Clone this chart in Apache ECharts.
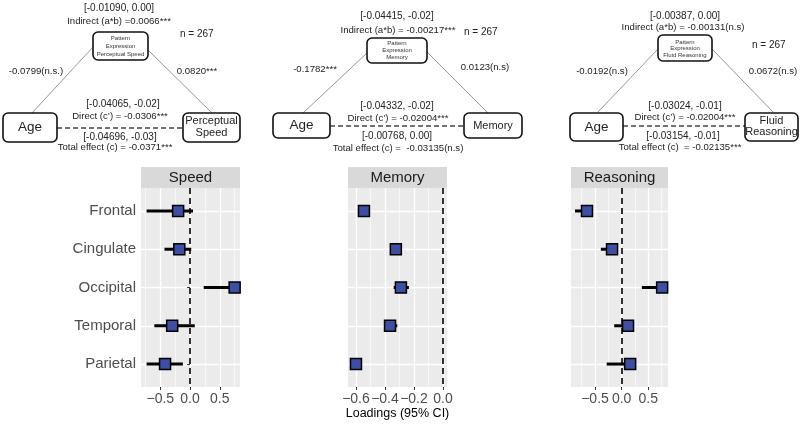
<!DOCTYPE html>
<html>
<head>
<meta charset="utf-8">
<script src="https://cdn.jsdelivr.net/npm/echarts@6/dist/echarts.min.js"></script>
<style>
  html, body { margin: 0; padding: 0; background: #fff; }
  #main { width: 800px; height: 430px; }
</style>
</head>
<body>
<div id="main"></div>
<script>
// forest plot data (loadings with 95% CI)
const regions = ['Frontal', 'Cingulate', 'Occipital', 'Temporal', 'Parietal'];
const panelTitles = ['Speed', 'Memory', 'Reasoning'];

const speedEst = [-0.20, -0.18, 0.75, -0.30, -0.42];
const speedLo = [-0.73, -0.43, 0.23, -0.60, -0.73];
const speedHi = [0.05, 0.02, 0.80, 0.08, -0.12];

const memoryEst = [-0.545, -0.325, -0.29, -0.365, -0.60];
const memoryLo = [-0.56, -0.335, -0.34, -0.38, -0.61];
const memoryHi = [-0.53, -0.285, -0.235, -0.315, -0.59];

const reasonEst = [-0.65, -0.18, 0.76, 0.12, 0.16];
const reasonLo = [-0.875, -0.39, 0.38, -0.14, -0.28];
const reasonHi = [-0.60, -0.13, 0.80, 0.16, 0.20];

const speedTicks = [-0.5, 0, 0.5];
const speedMinor = [-0.75, -0.25, 0.25, 0.75];
const memoryTicks = [-0.6, -0.4, -0.2, 0];
const memoryMinor = [-0.5, -0.3, -0.1];
const reasonTicks = [-0.5, 0, 0.5];
const reasonMinor = [-0.75, -0.25, 0.25, 0.75];

// mediation diagram texts
const mediatorLines = [
  ['Pattern', 'Expression', 'Perceptual Speed'],
  ['Pattern', 'Expression', 'Memory'],
  ['Pattern', 'Expression', 'Fluid Reasoning']
];
const outcomeLines = [['Perceptual', 'Speed'], ['Memory'], ['Fluid', 'Reasoning']];
const indirectCI = ['[-0.01090, 0.00]', '[-0.04415, -0.02]', '[-0.00387, 0.00]'];
const indirectTxt = ['Indirect (a*b) =0.0066***', 'Indirect (a*b) = -0.00217***', 'Indirect (a*b) = -0.00131(n.s)'];
const pathA = ['-0.0799(n.s.)', '-0.1782***', '-0.0192(n.s)'];
const pathB = ['0.0820***', '0.0123(n.s)', '0.0672(n.s)'];
const directCI = ['[-0.04065, -0.02]', '[-0.04332, -0.02]', '[-0.03024, -0.01]'];
const directTxt = ['Direct (c\u2019) = -0.0306***', 'Direct (c\u2019) = -0.02004***', 'Direct (c\u2019) = -0.02004***'];
const totalCI = ['[-0.04696, -0.03]', '[-0.00768, 0.00]', '[-0.03154, -0.01]'];
const totalTxt = ['Total effect (c) = -0.0371***', 'Total effect (c) =  -0.03135(n.s)', 'Total effect (c)  = -0.02135***'];
const sampleN = 'n = 267';

const FONT = '"Liberation Sans", Arial, sans-serif';

// where each diagram sits on the page
const diagrams = [
  {ci: [119, 8], ind: [119, 21], top: [93, 32, 55, 28], topY: [38, 46, 54], n: [180, 34],
   a: [36, 71], b: [197, 71], lineL: [93, 47, 32, 113], lineR: [148, 50, 212, 113],
   dci: [123, 104], dir: [120, 116], age: [3, 113, 54, 29], dash: [57, 183, 128],
   out: [183, 113, 57, 29], outY: [121, 133], tci: [120, 137], tot: [115, 147]},
  {ci: [397, 16], ind: [398, 30], top: [367, 38, 60, 25], topY: [43, 50, 57], n: [464, 32],
   a: [315, 69], b: [485, 67], lineL: [367, 53, 303, 113], lineR: [427, 52, 488, 113],
   dci: [397, 106], dir: [398, 118], age: [273, 113, 57, 25], dash: [330, 464, 126],
   out: [464, 113, 58, 25], outY: [126], tci: [397, 136], tot: [398, 148]},
  {ci: [685, 16], ind: [683, 27], top: [658, 35, 54, 26], topY: [42, 48, 55], n: [752, 45],
   a: [602, 71], b: [773, 71], lineL: [658, 49, 598, 112], lineR: [712, 49, 773, 112],
   dci: [685, 106], dir: [685, 117], age: [570, 113, 53, 28], dash: [623, 745, 126],
   out: [745, 113, 53, 28], outY: [121, 132], tci: [683, 136], tot: [680, 147]}
];

function txt(t, x, y, size, align, color) {
  return {
    type: 'text', z: 10,
    style: {text: t, x: x, y: y, font: size + 'px ' + FONT, fill: color || '#222',
            align: align || 'center', verticalAlign: 'middle'}
  };
}
function box(b) {
  return {
    type: 'rect', z: 5,
    shape: {x: b[0], y: b[1], width: b[2], height: b[3], r: 5},
    style: {fill: '#fff', stroke: '#111', lineWidth: 1.6}
  };
}

const graphics = [];
diagrams.forEach(function (d, i) {
  graphics.push({type: 'line', z: 2, shape: {x1: d.lineL[0], y1: d.lineL[1], x2: d.lineL[2], y2: d.lineL[3]},
                 style: {stroke: '#8a8a8a', lineWidth: 0.9}});
  graphics.push({type: 'line', z: 2, shape: {x1: d.lineR[0], y1: d.lineR[1], x2: d.lineR[2], y2: d.lineR[3]},
                 style: {stroke: '#8a8a8a', lineWidth: 0.9}});
  graphics.push({type: 'line', z: 2, shape: {x1: d.dash[0], y1: d.dash[2], x2: d.dash[1], y2: d.dash[2]},
                 style: {stroke: '#444', lineWidth: 1.5, lineDash: [5, 3]}});
  graphics.push(box(d.top), box(d.age), box(d.out));
  mediatorLines[i].forEach(function (t, k) {
    graphics.push(txt(t, d.top[0] + d.top[2] / 2, d.topY[k], 6, 'center', '#333'));
  });
  outcomeLines[i].forEach(function (t, k) {
    graphics.push(txt(t, d.out[0] + d.out[2] / 2, d.outY[k], 11));
  });
  graphics.push(txt('Age', d.age[0] + d.age[2] / 2, d.age[1] + d.age[3] / 2, 13.5));
  graphics.push(txt(indirectCI[i], d.ci[0], d.ci[1], 10));
  graphics.push(txt(indirectTxt[i], d.ind[0], d.ind[1], 9.6));
  graphics.push(txt(sampleN, d.n[0], d.n[1], 10, 'left'));
  graphics.push(txt(pathA[i], d.a[0], d.a[1], 9.6));
  graphics.push(txt(pathB[i], d.b[0], d.b[1], 9.6));
  graphics.push(txt(directCI[i], d.dci[0], d.dci[1], 10));
  graphics.push(txt(directTxt[i], d.dir[0], d.dir[1], 9.6));
  graphics.push(txt(totalCI[i], d.tci[0], d.tci[1], 10));
  graphics.push(txt(totalTxt[i], d.tot[0], d.tot[1], 9.6));
});

// forest panels
const panels = [
  {est: speedEst, lo: speedLo, hi: speedHi, ticks: speedTicks, minor: speedMinor, min: -0.824, max: 0.84,
   left: 141, width: 99},
  {est: memoryEst, lo: memoryLo, hi: memoryHi, ticks: memoryTicks, minor: memoryMinor, min: -0.655, max: 0.028,
   left: 348, width: 99},
  {est: reasonEst, lo: reasonLo, hi: reasonHi, ticks: reasonTicks, minor: reasonMinor, min: -0.95, max: 0.87,
   left: 571, width: 97}
];
const panelTop = 188, panelH = 199, stripH = 21;
const catIdx = regions.map(function (r, i) { return i; });

function fmtTick(v) {
  return (v < 0 ? '\u2212' : '') + Math.abs(v).toFixed(1);
}

const grids = [], xAxes = [], yAxes = [], series = [];
panels.forEach(function (p, i) {
  grids.push({left: p.left, top: panelTop, width: p.width, height: panelH,
              show: true, backgroundColor: '#ebebeb', borderWidth: 0});
  graphics.push({type: 'rect', z: 1, shape: {x: p.left, y: panelTop - stripH, width: p.width, height: stripH},
                 style: {fill: '#d9d9d9'}});
  graphics.push(txt(panelTitles[i], p.left + p.width / 2, panelTop - stripH / 2, 15, 'center', '#1a1a1a'));

  // minor grid axis
  xAxes.push({type: 'value', gridIndex: i, min: p.min, max: p.max, position: 'bottom',
              axisLine: {show: false}, axisLabel: {show: false},
              axisTick: {show: false, customValues: p.minor},
              splitLine: {show: true, lineStyle: {color: '#fff', width: 0.6}}});
  // major axis
  xAxes.push({type: 'value', gridIndex: i, min: p.min, max: p.max, position: 'bottom',
              name: i === 1 ? 'Loadings (95% CI)' : '', nameLocation: 'middle', nameGap: 18,
              nameTextStyle: {fontSize: 12.5, color: '#000', fontFamily: FONT},
              axisLine: {show: false},
              axisTick: {show: true, length: 3, customValues: p.ticks, lineStyle: {color: '#333', width: 1}},
              axisLabel: {customValues: p.ticks, formatter: fmtTick, fontSize: 14, color: '#4d4d4d',
                          fontFamily: FONT, margin: 5, hideOverlap: false},
              splitLine: {show: true, lineStyle: {color: '#fff', width: 1.3}}});
  yAxes.push({type: 'value', gridIndex: i, inverse: true, min: -0.6, max: 4.6,
              axisLine: {show: false},
              axisTick: {show: i === 0, length: 3, customValues: catIdx, lineStyle: {color: '#333', width: 1}},
              axisLabel: {show: i === 0, customValues: catIdx, formatter: function (v) { return regions[v]; },
                          fontSize: 15, color: '#4d4d4d', fontFamily: FONT, margin: 5},
              splitLine: {show: true, lineStyle: {color: '#fff', width: 1.3}}});

  series.push({
    type: 'custom', xAxisIndex: 2 * i + 1, yAxisIndex: i, z: 3, silent: true,
    data: p.lo.map(function (l, k) { return [l, p.hi[k], k]; }),
    encode: {x: [0, 1], y: 2},
    renderItem: function (params, api) {
      const a = api.coord([api.value(0), api.value(2)]);
      const b = api.coord([api.value(1), api.value(2)]);
      return {type: 'line', shape: {x1: a[0], y1: a[1], x2: b[0], y2: b[1]},
              style: {stroke: '#000', lineWidth: 3}};
    },
    markLine: {silent: true, symbol: ['none', 'none'], label: {show: false},
               lineStyle: {type: [6, 4], color: '#000', width: 1.6},
               data: [{xAxis: 0}]}
  });
  series.push({
    type: 'scatter', xAxisIndex: 2 * i + 1, yAxisIndex: i, z: 4, silent: true,
    symbol: 'rect', symbolSize: 11,
    itemStyle: {color: '#3e4fa3', borderColor: '#000', borderWidth: 1.5, opacity: 1},
    data: p.est.map(function (v, k) { return [v, k]; })
  });
});

const chart = echarts.init(document.getElementById('main'), null, {renderer: 'canvas'});
chart.setOption({
  animation: false,
  backgroundColor: '#fff',
  textStyle: {fontFamily: FONT},
  grid: grids,
  xAxis: xAxes,
  yAxis: yAxes,
  series: series,
  graphic: {elements: graphics}
});
</script>
</body>
</html>
